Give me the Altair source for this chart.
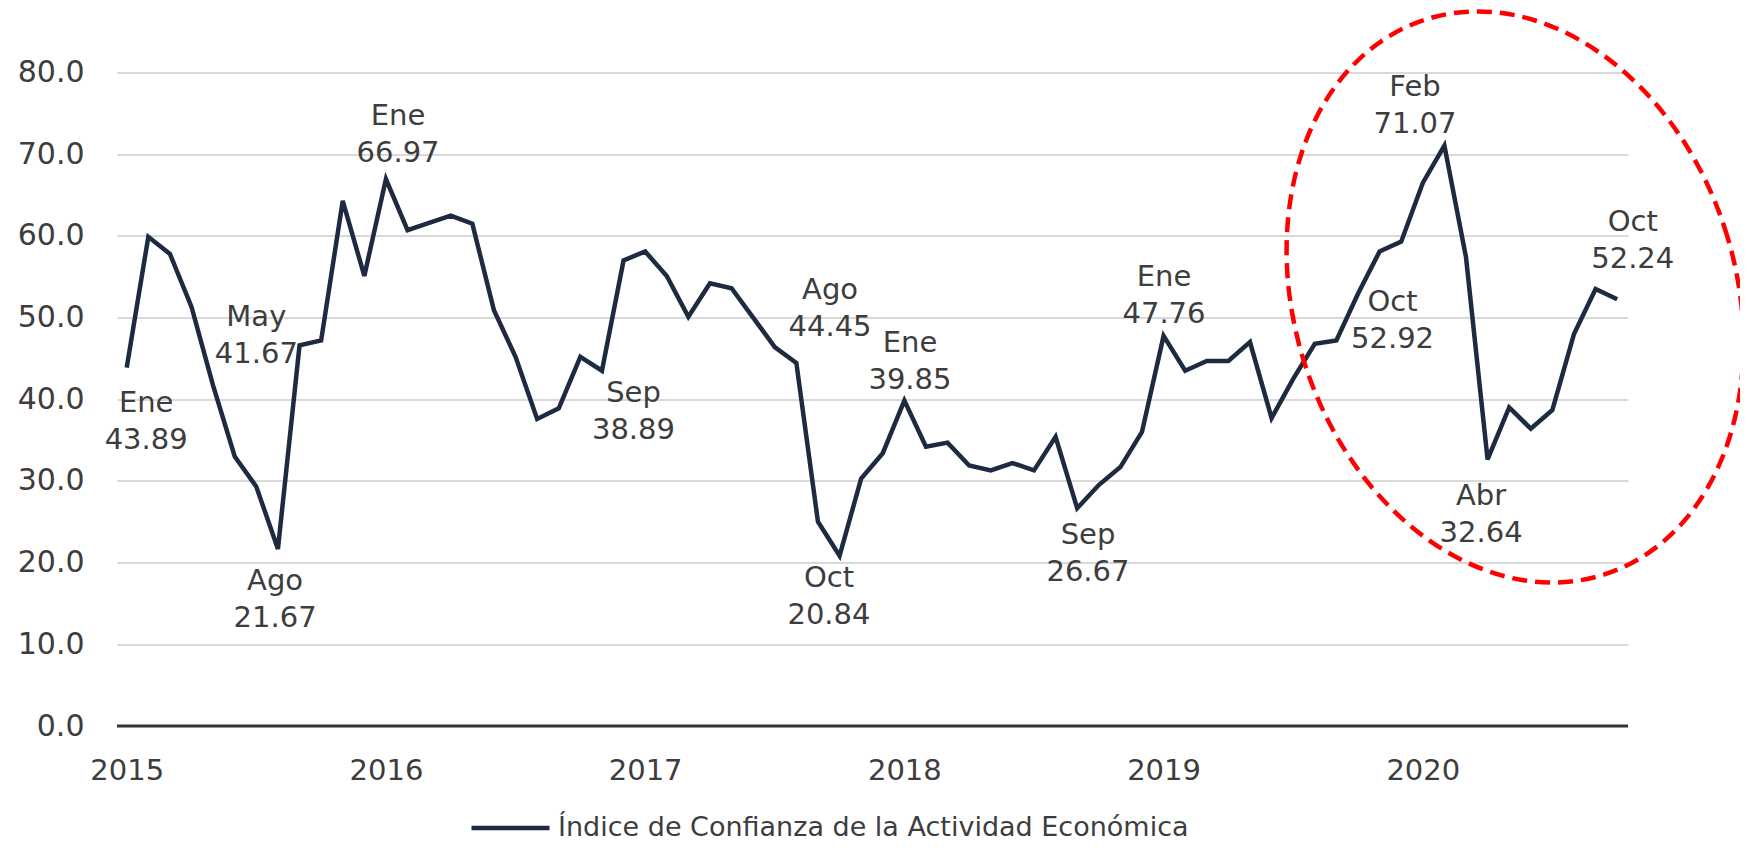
import altair as alt
import pandas as pd

# ---------------- data ----------------
month_index = list(range(70))  # Jan 2015 .. Oct 2020
values = [
    # 2015
    43.89, 59.9, 57.8, 51.3, 41.67, 33.0, 29.3, 21.67, 46.6, 47.2, 64.3, 55.1,
    # 2016
    66.97, 60.7, 61.6, 62.5, 61.5, 50.9, 45.2, 37.6, 38.89, 45.2, 43.5, 57.0,
    # 2017
    58.1, 55.1, 50.1, 54.2, 53.6, 50.0, 46.4, 44.45, 25.0, 20.84, 30.3, 33.4,
    # 2018
    39.85, 34.2, 34.7, 31.9, 31.3, 32.2, 31.3, 35.4, 26.67, 29.5, 31.7, 36.0,
    # 2019
    47.76, 43.5, 44.7, 44.7, 47.0, 37.7, 42.5, 46.8, 47.2, 52.92, 58.1, 59.3,
    # 2020
    66.5, 71.07, 57.4, 32.64, 39.0, 36.4, 38.7, 48.0, 53.5, 52.24,
]
series_name = "Índice de Confianza de la Actividad Económica"

year_ticks = [0, 12, 24, 36, 48, 60]
y_ticks = [0, 10, 20, 30, 40, 50, 60, 70, 80]

label_names = ["Ene", "May", "Ago", "Ene", "Sep", "Ago", "Ene", "Oct",
               "Sep", "Ene", "Feb", "Oct", "Abr", "Oct"]
label_values = ["43.89", "41.67", "21.67", "66.97", "38.89", "44.45", "39.85",
                "20.84", "26.67", "47.76", "71.07", "52.92", "32.64", "52.24"]
label_x = [0.90, 6.00, 6.87, 12.56, 23.46, 32.56, 36.26, 32.51,
           44.50, 48.02, 59.64, 58.60, 62.70, 69.72]
label_y = [37.34, 47.87, 15.43, 72.48, 38.51, 51.11, 44.63, 15.86,
           21.12, 52.71, 75.97, 49.69, 25.89, 59.50]

# highlight ellipse (centre in data units)
ellipse_x = [64.27]
ellipse_y = [52.53]

FONT = "DejaVu Sans"
TXT = "#3d3d3d"
LINE = "#1d2a40"

df = pd.DataFrame({"t": month_index, "v": values, "serie": series_name})
df_lab = pd.DataFrame({"lx": label_x, "ly": label_y,
                       "name": label_names, "val": label_values})
df_zero = pd.DataFrame({"y": [0]})
df_ell = pd.DataFrame({"ex": ellipse_x, "ey": ellipse_y})

xscale = alt.Scale(domain=[-0.45, 69.5], nice=False, zero=False)
yscale = alt.Scale(domain=[0, 80], nice=False)

line = alt.Chart(df).mark_line(strokeWidth=4.5, strokeJoin="miter").encode(
    x=alt.X("t:Q", scale=xscale,
            axis=alt.Axis(values=year_ticks,
                          labelExpr="'' + (2015 + datum.value / 12)",
                          grid=False, domain=False, ticks=False,
                          labelFontSize=29, labelPadding=30, labelColor=TXT,
                          labelFont=FONT, title=None)),
    y=alt.Y("v:Q", scale=yscale,
            axis=alt.Axis(values=y_ticks, format=".1f", grid=True,
                          gridColor="#d9d9d9", gridWidth=2,
                          domain=False, ticks=False, labelPadding=33,
                          labelFontSize=30, labelColor=TXT, labelFont=FONT,
                          title=None)),
    color=alt.Color("serie:N", scale=alt.Scale(range=[LINE]),
                    legend=alt.Legend(orient="none", legendX=352, legendY=714,
                                      title=None, symbolType="stroke",
                                      symbolSize=6084, symbolStrokeWidth=4.5,
                                      labelFontSize=27, labelFont=FONT,
                                      labelColor=TXT, labelOffset=6,
                                      labelLimit=1000, padding=0)),
)

zero = alt.Chart(df_zero).mark_rule(color="#333333", strokeWidth=3).encode(
    y=alt.Y("y:Q", scale=yscale)
)

names = alt.Chart(df_lab).mark_text(fontSize=29, font=FONT, color=TXT,
                                    baseline="middle", dy=-18.5).encode(
    x=alt.X("lx:Q", scale=xscale), y=alt.Y("ly:Q", scale=yscale), text="name:N")
vals = alt.Chart(df_lab).mark_text(fontSize=29, font=FONT, color=TXT,
                                   baseline="middle", dy=18.5).encode(
    x=alt.X("lx:Q", scale=xscale), y=alt.Y("ly:Q", scale=yscale), text="val:N")

ELLIPSE_PATH = ("M 0.757 0 C 0.757 0.5523 0.418 1 0 1 "
                "C -0.418 1 -0.757 0.5523 -0.757 0 "
                "C -0.757 -0.5523 -0.418 -1 0 -1 "
                "C 0.418 -1 0.757 -0.5523 0.757 0 Z")
ellipse = alt.Chart(df_ell).mark_point(
    shape=ELLIPSE_PATH, size=583 * 583, filled=False, stroke="#ff0000",
    strokeWidth=4.5, strokeDash=[15, 8], angle=342, opacity=1,
).encode(x=alt.X("ex:Q", scale=xscale), y=alt.Y("ey:Q", scale=yscale))

chart = alt.layer(line, zero, names, vals, ellipse).properties(
    width=1511, height=653.4,
    autosize=alt.AutoSizeParams(type="none"),
    padding={"left": 109, "top": 64.6, "right": 112, "bottom": 116},
).configure(background="white").configure_view(stroke=None, strokeWidth=0)

chart.save("out.html", embed_options={"renderer": "svg", "actions": False})
